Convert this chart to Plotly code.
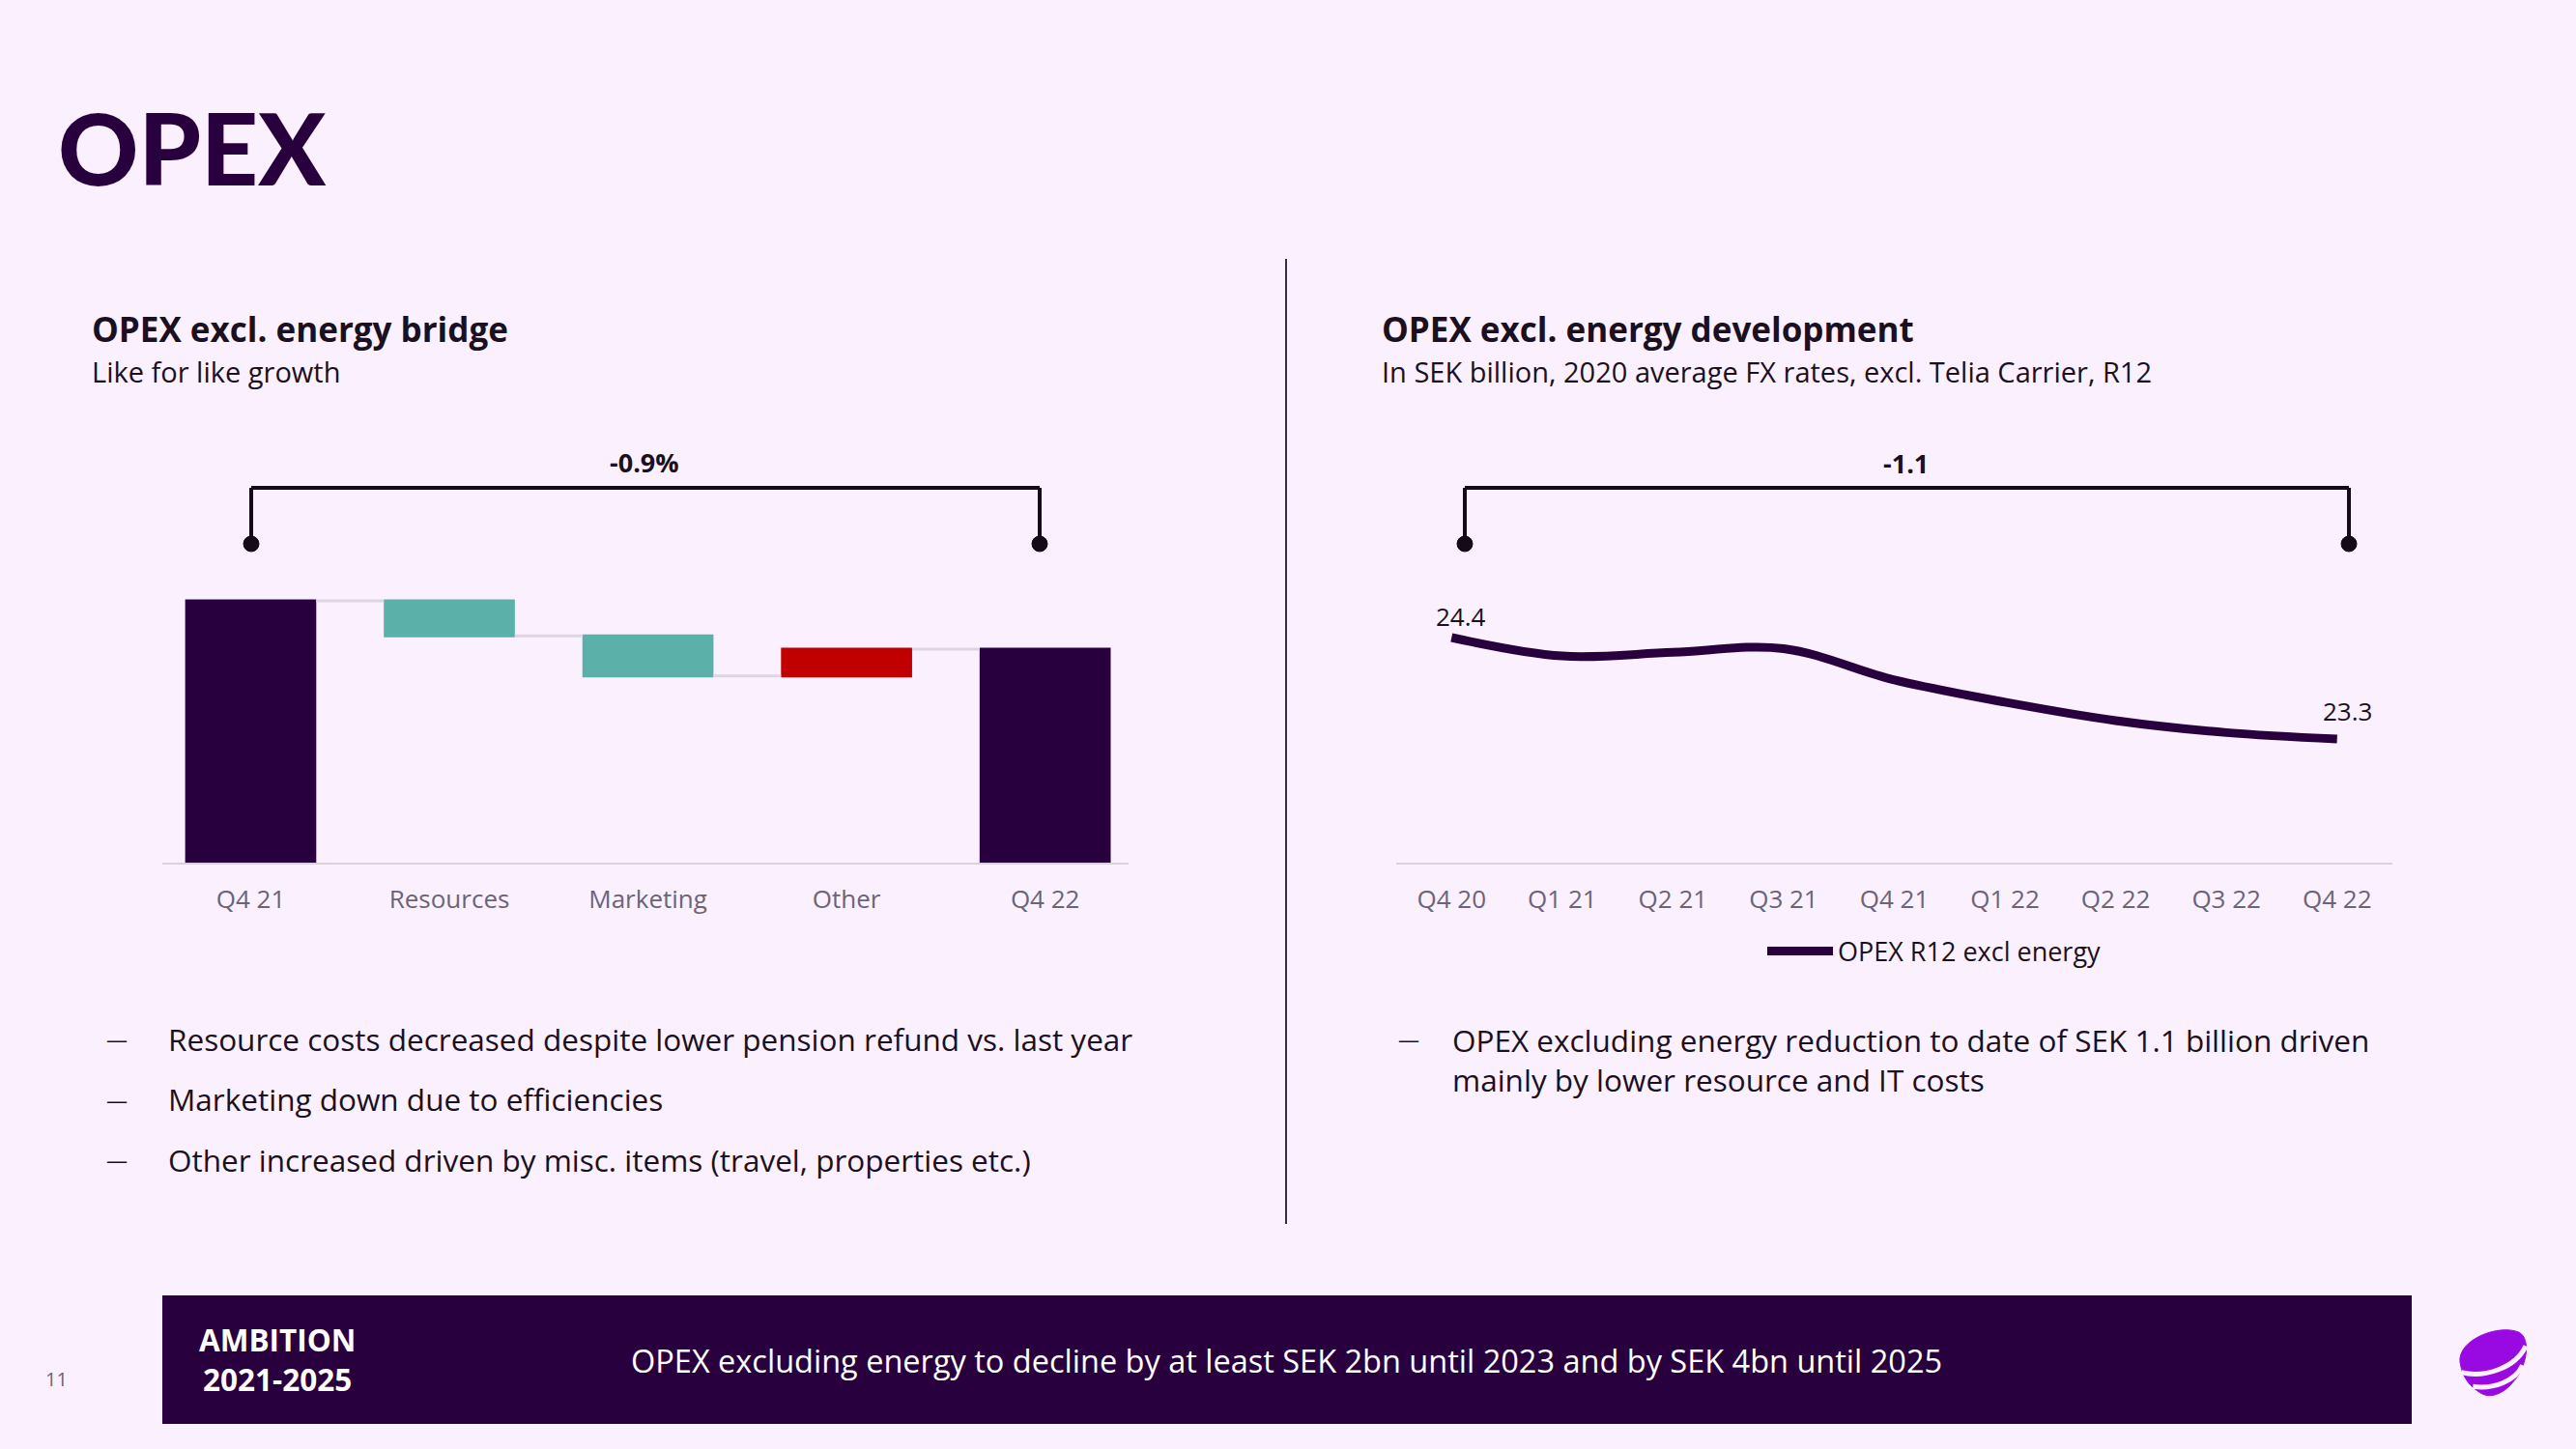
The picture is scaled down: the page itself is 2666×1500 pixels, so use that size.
import plotly.graph_objects as go

W, H = 2666, 1500


def px(x):
    return x / W


def py(y):
    return 1 - y / H


BG = "#FBF0FE"
DARK = "#29003E"
TEXT = "#1B1020"
TICK = "#6B6478"
TEAL = "#5BB0A9"
RED = "#C00000"
FONT = "Open Sans"

# ---------------- data ----------------
bridge_cats = ["Q4 21", "Resources", "Marketing", "Other", "Q4 22"]
bridge_vals = [100.0, -0.65, -0.75, 0.50, 0.0]
bridge_measure = ["absolute", "relative", "relative", "relative", "total"]
bridge_change_label = "-0.9%"

dev_quarters = ["Q4 20", "Q1 21", "Q2 21", "Q3 21", "Q4 21", "Q1 22", "Q2 22", "Q3 22", "Q4 22"]
dev_vals = [24.4, 24.20, 24.24, 24.28, 23.94, 23.70, 23.50, 23.37, 23.3]
dev_change_label = "-1.1"
dev_series_name = "OPEX R12 excl energy"

left_bullets = [
    "Resource costs decreased despite lower pension refund vs. last year",
    "Marketing down due to efficiencies",
    "Other increased driven by misc. items (travel, properties etc.)",
]
right_bullets = [
    "OPEX excluding energy reduction to date of SEK 1.1 billion driven<br>mainly by lower resource and IT costs",
]

fig = go.Figure()

fig.add_trace(go.Waterfall(
    x=bridge_cats, y=bridge_vals, measure=bridge_measure,
    xaxis="x", yaxis="y",
    width=0.66,
    increasing=dict(marker=dict(color=RED)),
    decreasing=dict(marker=dict(color=TEAL)),
    totals=dict(marker=dict(color=DARK)),
    connector=dict(mode="between", line=dict(color="#DDD5E3", width=3)),
    textinfo="none", showlegend=False, hoverinfo="x+y",
))

fig.add_trace(go.Scatter(
    x=dev_quarters, y=dev_vals, xaxis="x2", yaxis="y2",
    mode="lines", name=dev_series_name,
    line=dict(color=DARK, width=9, shape="spline", smoothing=1.0),
    showlegend=True,
))

# value labels on first and last point
fig.add_annotation(x=dev_quarters[0], y=dev_vals[0], xref="x2", yref="y2",
                   text=f"{dev_vals[0]:.1f}", showarrow=False, xshift=10, yshift=22,
                   font=dict(family=FONT, size=26, color=TEXT))
fig.add_annotation(x=dev_quarters[-1], y=dev_vals[-1], xref="x2", yref="y2",
                   text=f"{dev_vals[-1]:.1f}", showarrow=False, xshift=11, yshift=29,
                   font=dict(family=FONT, size=26, color=TEXT))

# axes
u_left = 55.6
left_bottom = 100 - (893 - 622) / u_left
left_top = 100 + (622 - 560) / u_left
u_right = 95.5
right_bottom = dev_vals[0] - (893 - 660) / u_right
right_top = dev_vals[0] + (660 - 560) / u_right

axis_common = dict(showgrid=False, zeroline=False, showline=True, linecolor="#D8D2DD",
                   linewidth=2, ticks="", ticklabelstandoff=14,
                   tickfont=dict(family=FONT, size=26, color=TICK), fixedrange=True)

fig.update_layout(
    width=W, height=H,
    margin=dict(l=0, r=0, t=0, b=0),
    paper_bgcolor=BG, plot_bgcolor="rgba(0,0,0,0)",
    xaxis=dict(domain=[px(168), px(1168)], anchor="y", range=[-0.445, 4.42], type="category", **axis_common),
    yaxis=dict(domain=[py(893), py(560)], anchor="x", range=[left_bottom, left_top],
               showgrid=False, zeroline=False, showticklabels=False, showline=False),
    xaxis2=dict(domain=[px(1445), px(2476)], anchor="y2", range=[-0.5, 8.5], type="category", **axis_common),
    yaxis2=dict(domain=[py(893), py(560)], anchor="x2", range=[right_bottom, right_top],
                showgrid=False, zeroline=False, showticklabels=False, showline=False),
    legend=dict(orientation="h", x=px(1824), xanchor="left", y=py(985), yanchor="middle",
                itemwidth=68,
                font=dict(family=FONT, size=27, color=TEXT), bgcolor="rgba(0,0,0,0)"),
    font=dict(family=FONT),
)

shapes = []


def bracket(x0, x1, ytop, ydot):
    col = "#140A18"
    shapes.append(dict(type="line", xref="paper", yref="paper", x0=px(x0), x1=px(x1), y0=py(ytop), y1=py(ytop),
                       line=dict(color=col, width=4)))
    for xx in (x0, x1):
        shapes.append(dict(type="line", xref="paper", yref="paper", x0=px(xx), x1=px(xx), y0=py(ytop), y1=py(ydot),
                           line=dict(color=col, width=4)))
        shapes.append(dict(type="circle", xref="paper", yref="paper", xsizemode="pixel", ysizemode="pixel",
                           xanchor=px(xx), yanchor=py(ydot), x0=-8, x1=8, y0=-8, y1=8,
                           fillcolor=col, line=dict(color=col, width=1)))


bracket(260, 1076, 505, 563)
bracket(1516, 2431, 505, 563)

# divider
shapes.append(dict(type="line", xref="paper", yref="paper", x0=px(1331), x1=px(1331), y0=py(268), y1=py(1267),
                   line=dict(color="#3A2A44", width=2)))

# footer band
shapes.append(dict(type="rect", xref="paper", yref="paper", x0=px(168), x1=px(2496), y0=py(1341), y1=py(1474),
                   fillcolor=DARK, line=dict(width=0), layer="below"))


# Telia logo (decorative)
def lp(zx, zy):
    return px(2520 + zx / 3), py(1360 + zy / 3)


def path(points_cmds):
    out = []
    for cmd, pts in points_cmds:
        coords = " ".join(f"{lp(a, b)[0]:.5f},{lp(a, b)[1]:.5f}" for a, b in pts)
        out.append(f"{cmd} {coords}")
    return " ".join(out)


logo = path([
    ("M", [(78, 150)]),
    ("C", [(70, 80), (200, 30), (262, 58)]),
    ("C", [(300, 80), (285, 170), (240, 215)]),
    ("C", [(210, 250), (170, 265), (140, 245)]),
    ("C", [(100, 220), (84, 190), (78, 150)]),
    ("Z", []),
])
shapes.append(dict(type="path", xref="paper", yref="paper", path=logo, fillcolor="#990AE3",
                   line=dict(color="#990AE3", width=1)))
stripe1 = path([("M", [(82, 182)]), ("C", [(150, 200), (250, 170), (282, 100)])])
stripe2 = path([("M", [(118, 226)]), ("C", [(180, 235), (250, 210), (272, 160)])])
for s in (stripe1, stripe2):
    shapes.append(dict(type="path", xref="paper", yref="paper", path=s, line=dict(color=BG, width=5)))

fig.update_layout(shapes=shapes)


def ann(x, y, text, size, color=TEXT, weight=400, xanchor="left", align="left", family=FONT):
    fig.add_annotation(x=px(x), y=py(y), xref="paper", yref="paper", text=text, showarrow=False,
                       xanchor=xanchor, yanchor="middle", align=align,
                       font=dict(family=family, size=size, color=color, weight=weight))


ann(58, 152, "OPEX", 103, color=DARK, weight=900, family="Lato")
ann(93, 340, "OPEX excl. energy bridge", 35, weight=700)
ann(93, 385, "Like for like growth", 29)
ann(1428, 340, "OPEX excl. energy development", 35, weight=700)
ann(1428, 385, "In SEK billion, 2020 average FX rates, excl. Telia Carrier, R12", 29)

ann(667, 478, bridge_change_label, 27, weight=700, xanchor="center")
ann(1972, 479, dev_change_label, 27, weight=700, xanchor="center")

for i, b in enumerate(left_bullets):
    yy = 1075 + i * 62.5
    ann(108, yy, "—", 22)
    ann(172, yy, b, 31.5)

ann(1445, 1075, "—", 22)
fig.add_annotation(x=px(1501), y=py(1075 - 22), xref="paper", yref="paper", text=right_bullets[0],
                   showarrow=False, xanchor="left", yanchor="top", align="left",
                   font=dict(family=FONT, size=31.5, color=TEXT))

ann(287, 1407, "AMBITION<br>2021-2025", 31.5, color="white", weight=700, xanchor="center", align="center")
ann(651, 1408, "OPEX excluding energy to decline by at least SEK 2bn until 2023 and by SEK 4bn until 2025", 32.5,
    color="white")
ann(58, 1427, "11", 20, color="#6B6478", xanchor="center")

fig.write_html("out.html", config={"displayModeBar": False},
               post_script="document.body.style.margin='0';")
